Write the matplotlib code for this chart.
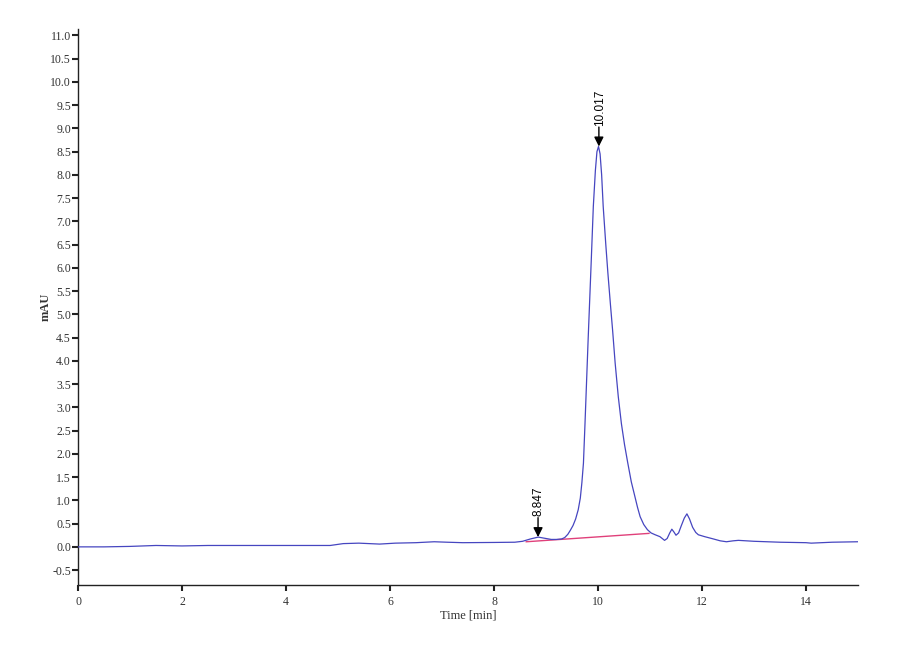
import matplotlib
matplotlib.use("Agg")
import matplotlib.pyplot as plt

# ---- data ----
time_min = [0.0, 0.5, 1.0, 1.5, 2.0, 2.5, 3.0, 3.5, 4.0, 4.5, 4.85, 5.1, 5.4, 5.8, 6.1,
            6.5, 6.85, 7.1, 7.4, 8.0, 8.4, 8.55, 8.7, 8.85, 8.95, 9.1, 9.2,
            9.30, 9.36, 9.42, 9.47, 9.52, 9.57, 9.62, 9.66, 9.69, 9.72, 9.75, 9.78,
            9.81, 9.84, 9.87, 9.91, 9.95, 9.98, 10.01, 10.04, 10.07, 10.10, 10.15,
            10.19, 10.24, 10.28, 10.33, 10.39, 10.45, 10.51, 10.57, 10.64, 10.71,
            10.76, 10.81, 10.88, 10.95, 11.02, 11.10, 11.19, 11.28, 11.33, 11.38,
            11.42, 11.46, 11.50, 11.55, 11.60, 11.66, 11.71, 11.76, 11.82, 11.88,
            11.93, 12.05, 12.22, 12.35, 12.47, 12.60, 12.70, 13.0, 13.5, 14.0, 14.1,
            14.5, 15.0]
signal_mau = [0.0, 0.0, 0.01, 0.03, 0.02, 0.03, 0.03, 0.03, 0.03, 0.03, 0.03, 0.07, 0.08, 0.06, 0.08,
              0.09, 0.11, 0.10, 0.09, 0.095, 0.10, 0.12, 0.17, 0.21, 0.19, 0.16, 0.16,
              0.17, 0.20, 0.27, 0.36, 0.46, 0.60, 0.80, 1.05, 1.38, 1.80, 2.65, 3.55,
              4.45, 5.30, 6.15, 7.32, 8.1, 8.5, 8.61, 8.45, 8.0, 7.32, 6.5,
              5.89, 5.2, 4.67, 3.95, 3.23, 2.65, 2.2, 1.82, 1.40, 1.08,
              0.85, 0.65, 0.48, 0.37, 0.30, 0.26, 0.22, 0.14, 0.18, 0.30,
              0.38, 0.32, 0.25, 0.30, 0.45, 0.62, 0.71, 0.60, 0.42, 0.31,
              0.26, 0.22, 0.17, 0.13, 0.11, 0.13, 0.14, 0.12, 0.10, 0.09, 0.08,
              0.10, 0.11]

baseline_time = [8.62, 10.98]
baseline_mau = [0.11, 0.29]

peak_times = [8.847, 10.017]
peak_heights = [0.21, 8.61]
peak_labels = ["8.847", "10.017"]

x_ticks = [0, 2, 4, 6, 8, 10, 12, 14]
y_ticks = [-0.5, 0.0, 0.5, 1.0, 1.5, 2.0, 2.5, 3.0, 3.5, 4.0, 4.5, 5.0, 5.5,
           6.0, 6.5, 7.0, 7.5, 8.0, 8.5, 9.0, 9.5, 10.0, 10.5, 11.0]

# ---- figure ----
fig = plt.figure(figsize=(9, 6.6), dpi=100)
ax = fig.add_axes([78/900, 1-585/660, (858-78)/900, (585-29.3)/660])

ax.plot(baseline_time, baseline_mau, color="#e0407a", lw=1.0, zorder=2)
ax.plot(time_min, signal_mau, color="#4646c0", lw=0.9, zorder=3)

for t, h, lab in zip(peak_times, peak_heights, peak_labels):
    ax.annotate("", xy=(t, h), xytext=(0, 14), textcoords="offset points",
                arrowprops=dict(arrowstyle="-|>", color="black", lw=1.0,
                                mutation_scale=14, shrinkA=0, shrinkB=0),
                zorder=5)
    ax.annotate(lab, xy=(t, h), xytext=(0.5, 15), textcoords="offset points",
                fontsize=8.5, family="Liberation Sans", rotation=90,
                ha="center", va="bottom", zorder=5)

ax.set_xlim(0, 15)
ax.set_ylim(-0.82, 11.13)
ax.set_xticks(x_ticks)
ax.set_xticklabels([str(v) for v in x_ticks])
ax.set_yticks(y_ticks)
ax.set_yticklabels([f"{v:.1f}" for v in y_ticks])

for s in ["top", "right"]:
    ax.spines[s].set_visible(False)
for s in ["left", "bottom"]:
    ax.spines[s].set_linewidth(1.0)
    ax.spines[s].set_color("#222222")

ax.tick_params(axis="both", direction="out", length=4, width=1.5, colors="#222222",
               labelsize=8.5, pad=1)
for lab in ax.get_xticklabels() + ax.get_yticklabels():
    lab.set_family("Liberation Serif")
    lab.set_color("#333333")
ax.tick_params(axis="x", pad=4)

ax.set_xlabel("Time [min]", family="Liberation Serif", fontsize=9, labelpad=1, color="#333333")
ax.set_ylabel("mAU", family="Liberation Serif", fontsize=9, fontweight="bold", labelpad=-1, color="#333333")

fig.savefig("out.png", dpi=100)
